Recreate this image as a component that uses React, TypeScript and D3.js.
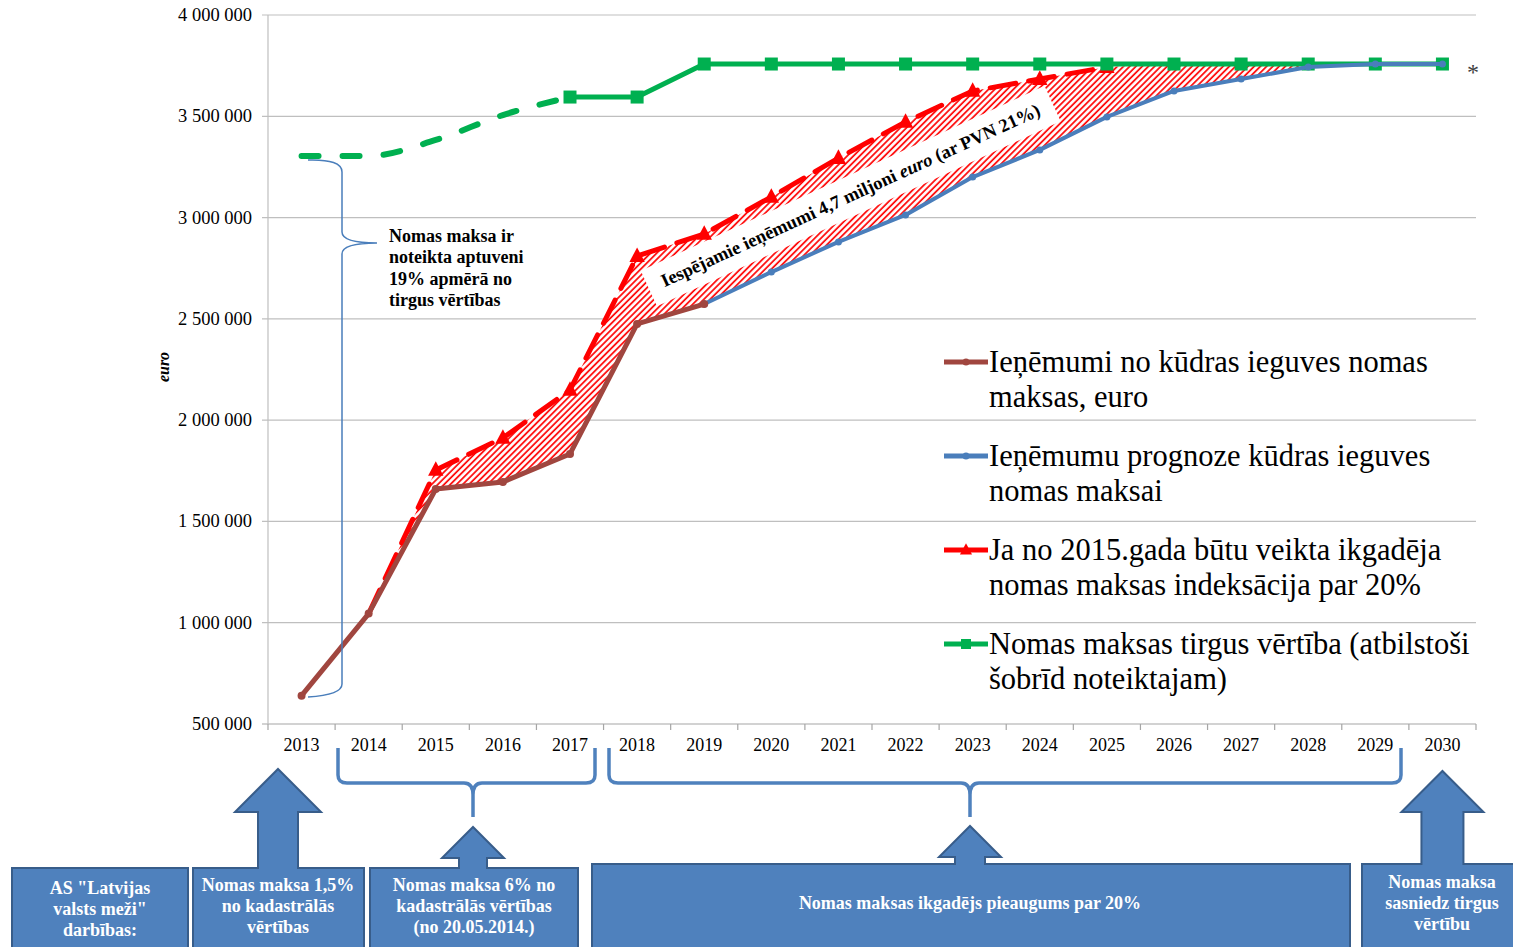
import React from 'react';
import * as d3 from 'd3';

// ---------- DATA ----------
const years: string[] = ['2013','2014','2015','2016','2017','2018','2019','2020','2021','2022','2023','2024','2025','2026','2027','2028','2029','2030'];
const yTicks: number[] = [500000, 1000000, 1500000, 2000000, 2500000, 3000000, 3500000, 4000000];

// Ieņēmumi no kūdras ieguves nomas maksas, euro (2013–2019)
const actualYears: string[] = ['2013','2014','2015','2016','2017','2018','2019'];
const actualRevenue: number[] = [640000, 1045000, 1660000, 1695000, 1833000, 2475000, 2573000];

// Ieņēmumu prognoze (2019–2030)
const forecastYears: string[] = ['2019','2020','2021','2022','2023','2024','2025','2026','2027','2028','2029','2030'];
const forecastRevenue: number[] = [2573000, 2731000, 2880000, 3013000, 3200000, 3334000, 3497000, 3625000, 3684000, 3743000, 3758000, 3758000];

// Ja no 2015.gada būtu veikta ikgadēja indeksācija par 20% (2014–2025)
const indexedYears: string[] = ['2014','2015','2016','2017','2018','2019','2020','2021','2022','2023','2024','2025'];
const indexedRevenue: number[] = [1045000, 1754000, 1912000, 2149000, 2810000, 2919000, 3102000, 3294000, 3472000, 3625000, 3684000, 3743000];

// Nomas maksas tirgus vērtība – estimated (dashed) 2013–2017
const marketEstYears: string[] = ['2013','2014','2015','2016','2017'];
const marketEstValue: number[] = [3304000, 3304000, 3383000, 3506000, 3595000];
// Nomas maksas tirgus vērtība – solid 2017–2030
const marketYears: string[] = ['2017','2018','2019','2020','2021','2022','2023','2024','2025','2026','2027','2028','2029','2030'];
const marketValue: number[] = [3595000, 3595000, 3758000, 3758000, 3758000, 3758000, 3758000, 3758000, 3758000, 3758000, 3758000, 3758000, 3758000, 3758000];

// Hatched gap years
const gapYears: string[] = ['2014','2015','2016','2017','2018','2019','2020','2021','2022','2023','2024','2025','2026','2027','2028'];

const legendLabels: string[][] = [
  ['Ieņēmumi no kūdras ieguves nomas', 'maksas, euro'],
  ['Ieņēmumu prognoze kūdras ieguves', 'nomas maksai'],
  ['Ja no 2015.gada būtu veikta ikgadēja', 'nomas maksas indeksācija par 20%'],
  ['Nomas maksas tirgus vērtība (atbilstoši', 'šobrīd noteiktajam)'],
];

const COL_BROWN = '#a0463f';
const COL_BLUE = '#4a7ebb';
const COL_RED = '#ff0000';
const COL_GREEN = '#00b050';
const BOX_FILL = '#4f81bd';
const BOX_STROKE = '#385d8a';
const SERIF = '"Liberation Serif", "Times New Roman", Times, serif';

const fmt = (v: number) => d3.format(',')(v).replace(/,/g, ' ');

export default function App() {
  const W = 1513, H = 947;
  const x = d3.scaleBand<string>().domain(years).range([268, 1476]).padding(0);
  const cx = (yr: string) => (x(yr) as number) + x.bandwidth() / 2;
  const y = d3.scaleLinear().domain([500000, 4000000]).range([724, 15]);

  const zip = (ys: string[], vs: number[]): [string, number][] => ys.map((yr, i) => [yr, vs[i]]);
  const line = d3.line<[string, number]>().x(d => cx(d[0])).y(d => y(d[1]));
  const smooth = d3.line<[string, number]>().x(d => cx(d[0])).y(d => y(d[1])).curve(d3.curveMonotoneX);

  const actual = zip(actualYears, actualRevenue);
  const forecast = zip(forecastYears, forecastRevenue);
  const indexed = zip(indexedYears, indexedRevenue);
  const marketEst = zip(marketEstYears, marketEstValue);
  const market = zip(marketYears, marketValue);

  const lookup = (ys: string[], vs: number[], yr: string) => {
    const i = ys.indexOf(yr);
    return i >= 0 ? vs[i] : undefined;
  };
  const upper: [number, number][] = gapYears.map(yr => {
    const v = lookup(indexedYears, indexedRevenue, yr) ?? (lookup(marketYears, marketValue, yr) as number);
    return [cx(yr), y(v)];
  });
  const lower: [number, number][] = gapYears.map(yr => {
    const v = lookup(actualYears, actualRevenue, yr) ?? (lookup(forecastYears, forecastRevenue, yr) as number);
    return [cx(yr), y(v)];
  });
  const gapPath = 'M' + upper.map(p => p.join(',')).join('L') + 'L' + lower.slice().reverse().map(p => p.join(',')).join('L') + 'Z';

  const tri = (px: number, py: number, s: number) => `M${px},${py - s * 0.62}L${px + s * 0.55},${py + s * 0.42}L${px - s * 0.55},${py + s * 0.42}Z`;

  // brace helper (horizontal, opening up, tip down)
  const hBrace = (xl: number, xr: number, xc: number, y0: number, yh: number, yt: number) =>
    `M${xl},${y0}L${xl},${yh - 8}Q${xl},${yh} ${xl + 9},${yh}L${xc - 9},${yh}Q${xc},${yh} ${xc},${yh + 12}L${xc},${yt}` +
    `M${xc},${yh + 12}Q${xc},${yh} ${xc + 9},${yh}L${xr - 9},${yh}Q${xr},${yh} ${xr},${yh - 8}L${xr},${y0}`;

  const calloutUp = (bx0: number, bx1: number, top: number, ax: number, headY: number, apexY: number, headHalf: number, shaftHalf: number) =>
    `M${bx0},${top}L${ax - shaftHalf},${top}L${ax - shaftHalf},${headY}L${ax - headHalf},${headY}L${ax},${apexY}L${ax + headHalf},${headY}L${ax + shaftHalf},${headY}L${ax + shaftHalf},${top}L${bx1},${top}L${bx1},${H + 10}L${bx0},${H + 10}Z`;

  const legendY = [362, 456, 550, 644];
  const legendColors = [COL_BROWN, COL_BLUE, COL_RED, COL_GREEN];

  const boxText = (lines: string[], xc: number, y0: number) => (
    <text x={xc} y={y0} textAnchor="middle" fill="#fff" fontFamily={SERIF} fontWeight="bold" fontSize={18}>
      {lines.map((l, i) => <tspan key={i} x={xc} dy={i === 0 ? 0 : 21}>{l}</tspan>)}
    </text>
  );

  return (
    <svg width={W} height={H} style={{ position: 'absolute', left: 0, top: 0, background: '#fff' }} fontFamily={SERIF}>
      <defs>
        <pattern id="hatch" patternUnits="userSpaceOnUse" width="4.4" height="4.4" patternTransform="rotate(45)">
          <rect width="4.4" height="4.4" fill="#fff" />
          <line x1="1" y1="0" x2="1" y2="4.4" stroke={COL_RED} strokeWidth="1.7" />
        </pattern>
      </defs>

      {/* gridlines */}
      {yTicks.map(t => (
        <g key={t}>
          <line x1={262} x2={1476} y1={y(t)} y2={y(t)} stroke={t === 500000 ? '#a6a6a6' : '#bfbfbf'} strokeWidth={1.2} />
          <text x={252} y={y(t) + 6} textAnchor="end" fontSize={18.5} fill="#000">{fmt(t)}</text>
        </g>
      ))}
      {/* y axis */}
      <line x1={268} x2={268} y1={15} y2={724} stroke="#bfbfbf" strokeWidth={1.2} />
      {/* x ticks */}
      {years.map(yr => (
        <line key={'t' + yr} x1={x(yr) as number} x2={x(yr) as number} y1={724} y2={730} stroke="#a6a6a6" strokeWidth={1.2} />
      ))}
      <line x1={1476} x2={1476} y1={724} y2={730} stroke="#a6a6a6" strokeWidth={1.2} />
      {years.map(yr => (
        <text key={'l' + yr} x={cx(yr)} y={751} textAnchor="middle" fontSize={18} fill="#000">{yr}</text>
      ))}
      <text transform="translate(169,367) rotate(-90)" textAnchor="middle" fontSize={16} fontStyle="italic" fontWeight="bold">euro</text>

      {/* hatched gap */}
      <path d={gapPath} fill="url(#hatch)" stroke="none" />

      {/* annotation box */}
      <g transform="translate(853,201) rotate(-24.6)">
        <rect x={-222} y={-25} width={444} height={39} fill="#fff" />
        <text x={0} y={0} textAnchor="middle" fontSize={18.5} fontWeight="bold" fill="#000">
          Iespējamie ieņēmumi 4,7 miljoni <tspan fontStyle="italic">euro</tspan> (ar PVN 21%)
        </text>
      </g>

      {/* green estimated dashed */}
      <path d={smooth(marketEst) as string} fill="none" stroke={COL_GREEN} strokeWidth={6} strokeDasharray="17 24" strokeLinecap="round" />

      {/* red indexed */}
      <path d={line(indexed) as string} fill="none" stroke={COL_RED} strokeWidth={5} strokeDasharray="26 13" strokeLinecap="round" strokeLinejoin="round" />
      {indexed.slice(1).map(d => (
        <path key={'r' + d[0]} d={tri(cx(d[0]), y(d[1]), 14)} fill={COL_RED} />
      ))}

      {/* green market */}
      <path d={line(market) as string} fill="none" stroke={COL_GREEN} strokeWidth={5} />
      {market.map(d => (
        <rect key={'g' + d[0]} x={cx(d[0]) - 6.5} y={y(d[1]) - 6.5} width={13} height={13} fill={COL_GREEN} />
      ))}

      {/* blue forecast */}
      <path d={line(forecast) as string} fill="none" stroke={COL_BLUE} strokeWidth={4} strokeLinejoin="round" />
      {forecast.map(d => (
        <circle key={'b' + d[0]} cx={cx(d[0])} cy={y(d[1])} r={3.5} fill={COL_BLUE} />
      ))}

      {/* brown actual */}
      <path d={line(actual) as string} fill="none" stroke={COL_BROWN} strokeWidth={5} strokeLinejoin="round" />
      {actual.map(d => (
        <circle key={'a' + d[0]} cx={cx(d[0])} cy={y(d[1])} r={4} fill={COL_BROWN} />
      ))}

      {/* asterisk */}
      <text x={1473} y={80} textAnchor="middle" fontSize={24} fill="#404040">*</text>

      {/* left brace */}
      <path d="M308,160 Q342,159 342,172 L342,232 Q342,243 377,243 Q342,243 342,254 L342,684 Q342,695 308,697"
        fill="none" stroke={COL_BLUE} strokeWidth={1.5} />
      <text x={389} y={242} fontSize={18} fontWeight="bold" fill="#000">
        {['Nomas maksa ir', 'noteikta aptuveni', '19% apmērā no', 'tirgus vērtības'].map((l, i) => (
          <tspan key={i} x={389} dy={i === 0 ? 0 : 21.3}>{l}</tspan>
        ))}
      </text>

      {/* legend */}
      {legendLabels.map((lbl, i) => {
        const ly = legendY[i];
        const mx = 966;
        return (
          <g key={'lg' + i}>
            <line x1={944} x2={988} y1={ly} y2={ly} stroke={legendColors[i]} strokeWidth={5} />
            {i === 0 && <circle cx={mx} cy={ly} r={3.5} fill={COL_BROWN} />}
            {i === 1 && <circle cx={mx} cy={ly} r={3.5} fill={COL_BLUE} />}
            {i === 2 && <path d={tri(mx, ly, 11)} fill={COL_RED} />}
            {i === 3 && <rect x={mx - 5} y={ly - 5} width={10} height={10} fill={COL_GREEN} />}
            <text x={989} y={ly + 10} fontSize={30.5} fill="#000">
              <tspan x={989}>{lbl[0]}</tspan>
              <tspan x={989} dy={35}>{lbl[1]}</tspan>
            </text>
          </g>
        );
      })}

      {/* bottom braces */}
      <path d={hBrace(338, 595, 473, 748, 783, 817)} fill="none" stroke={BOX_FILL} strokeWidth={3.5} />
      <path d={hBrace(609, 1401, 970, 748, 783, 817)} fill="none" stroke={BOX_FILL} strokeWidth={3.5} />

      {/* bottom boxes */}
      <rect x={12} y={868} width={176} height={90} fill={BOX_FILL} stroke={BOX_STROKE} strokeWidth={2} />
      {boxText(['AS "Latvijas', 'valsts meži"', 'darbības:'], 100, 894)}

      <path d={calloutUp(193, 364, 868, 278, 812, 769, 43, 20)} fill={BOX_FILL} stroke={BOX_STROKE} strokeWidth={2} />
      {boxText(['Nomas maksa 1,5%', 'no kadastrālās', 'vērtības'], 278, 891)}

      <path d={calloutUp(370, 578, 868, 473, 858, 827, 31, 14)} fill={BOX_FILL} stroke={BOX_STROKE} strokeWidth={2} />
      {boxText(['Nomas maksa 6% no', 'kadastrālās vērtības', '(no 20.05.2014.)'], 474, 891)}

      <path d={calloutUp(592, 1350, 864, 970, 857, 826, 31, 15)} fill={BOX_FILL} stroke={BOX_STROKE} strokeWidth={2} />
      {boxText(['Nomas maksas ikgadējs pieaugums par 20%'], 970, 909)}

      <path d={calloutUp(1362, 1525, 864, cx('2030'), 812, 771, 41, 21)} fill={BOX_FILL} stroke={BOX_STROKE} strokeWidth={2} />
      {boxText(['Nomas maksa', 'sasniedz tirgus', 'vērtību'], 1442, 888)}
    </svg>
  );
}
